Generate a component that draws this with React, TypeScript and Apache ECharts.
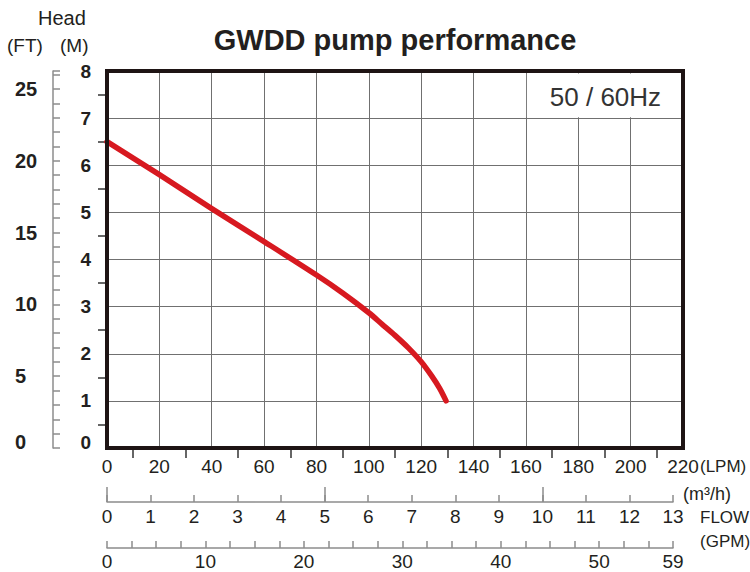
import React, { useEffect, useRef } from "react";
import * as echarts from "echarts";

// ---- data ----
const flowLPM = [0, 20, 40, 60, 80, 90, 100, 105, 110, 115, 120, 124, 127, 129.5];
const headM = [6.5, 5.8, 5.08, 4.38, 3.67, 3.29, 2.87, 2.63, 2.39, 2.13, 1.83, 1.53, 1.27, 1.0];
const gpmLabelAtEnd = "59";
const titleText = "GWDD pump performance";
const freqText = "50 / 60Hz";

// ---- layout ----
const W = 750;
const H = 572;
const GL = 107;
const GT = 71;
const GW = 576;
const GH = 377;
const LPM_MAX = 220;
const M_MAX = 8;
const FT_MAX = M_MAX / 0.3048;
const SUB_W = 566;

const FONT = "'Liberation Sans', Arial, Helvetica, sans-serif";
const INK = "#231f20";
const FRAME = "#1e1414";
const GRIDC = "#707070";
const AXC = "#8c8c8c";
const RED = "#d71920";

const px = (lpm: number) => GL + (lpm / LPM_MAX) * GW;
const py = (m: number) => GT + GH - (m / M_MAX) * GH;

export default function App() {
  const ref = useRef<HTMLDivElement>(null);
  useEffect(() => {
    if (!ref.current) return;
    const chart = echarts.init(ref.current, undefined, { renderer: "svg" });
    const curve = flowLPM.map((x, i) => [x, headM[i]]);
    const boxX0 = px(160) + 1;
    const boxX1 = px(220) - 2.5;
    const boxY0 = py(8) + 2.5;
    const boxY1 = py(7) - 1;
    chart.setOption({
      animation: false,
      textStyle: { fontFamily: FONT },
      grid: [
        { left: GL, top: GT, width: GW, height: GH, show: false },
        { left: GL, top: 501, width: SUB_W, height: 1, show: false },
        { left: GL, top: 547, width: SUB_W, height: 1, show: false },
      ],
      xAxis: [
        {
          type: "value", gridIndex: 0, min: 0, max: LPM_MAX, interval: 20,
          axisLine: { show: false },
          axisTick: { show: false },
          minorTick: { show: true, splitNumber: 2, length: 10, lineStyle: { color: "#333", width: 1.5 } },
          splitLine: { show: true, lineStyle: { color: GRIDC, width: 1 } },
          axisLabel: { fontSize: 19, color: INK, margin: 9, fontFamily: FONT },
        },
        {
          type: "value", gridIndex: 1, min: 0, max: 13, interval: 1, position: "bottom",
          axisLine: { show: true, lineStyle: { color: AXC, width: 1.5 } },
          axisTick: { show: true, inside: true, length: 7, lineStyle: { color: AXC, width: 1.5 } },
          splitLine: { show: false },
          axisLabel: { fontSize: 19, color: INK, margin: 5, fontFamily: FONT },
        },
        {
          type: "value", gridIndex: 1, min: 0, max: 13, interval: 5, position: "bottom",
          axisLine: { show: false },
          axisTick: { show: true, inside: true, length: 15, customValues: [0, 5, 10], lineStyle: { color: AXC, width: 1.5 } },
          splitLine: { show: false },
          axisLabel: { show: false },
        },
        {
          type: "value", gridIndex: 2, min: 0, max: 57.5, interval: 2.5, position: "bottom",
          axisLine: { show: true, lineStyle: { color: AXC, width: 1.5 } },
          axisTick: { show: true, inside: true, length: 7, lineStyle: { color: AXC, width: 1.5 } },
          splitLine: { show: false },
          axisLabel: {
            fontSize: 19, color: INK, margin: 4, fontFamily: FONT,
            formatter: (v: number) => (v === 57.5 ? gpmLabelAtEnd : v % 10 === 0 ? String(v) : ""),
          },
        },
      ],
      yAxis: [
        {
          type: "value", gridIndex: 0, min: 0, max: M_MAX, interval: 1,
          axisLine: { show: false },
          axisTick: { show: false },
          minorTick: { show: true, splitNumber: 2, length: 9, lineStyle: { color: "#333", width: 1.5 } },
          splitLine: { show: true, lineStyle: { color: GRIDC, width: 1 } },
          axisLabel: {
            fontSize: 19, fontWeight: "bold", color: INK, margin: 16, fontFamily: FONT,
            formatter: (v: number) => (v === 0 ? "{z|0}" : String(v)),
            rich: { z: { padding: [0, 0, 12, 0], fontSize: 19, fontWeight: "bold", color: INK, fontFamily: FONT } },
          },
        },
        {
          type: "value", gridIndex: 0, min: 0, max: FT_MAX, interval: 1, position: "left", offset: 54,
          axisLine: { show: true, lineStyle: { color: AXC, width: 1.5 } },
          axisTick: { show: true, inside: true, length: 7, lineStyle: { color: AXC, width: 1.5 } },
          splitLine: { show: false },
          axisLabel: {
            fontSize: 20, fontWeight: "bold", color: INK, margin: 38, align: "left", fontFamily: FONT,
            formatter: (v: number) => (v === 0 ? "{z|0}" : Math.abs(v % 5) < 1e-9 ? String(v) : ""),
            rich: { z: { padding: [0, 0, 12, 0], fontSize: 20, fontWeight: "bold", color: INK, fontFamily: FONT } },
          },
        },
        { type: "value", gridIndex: 1, show: false },
        { type: "value", gridIndex: 2, show: false },
      ],
      series: [
        {
          type: "line", xAxisIndex: 0, yAxisIndex: 0, data: curve,
          smooth: 0.3, showSymbol: false, symbol: "none",
          lineStyle: { color: RED, width: 5.5, cap: "round", join: "round" },
          z: 5,
        },
      ],
      graphic: [
        {
          type: "rect", z: 1,
          shape: { x: boxX0, y: boxY0, width: boxX1 - boxX0, height: boxY1 - boxY0 },
          style: { fill: "#ffffff" },
        },
        {
          type: "rect", z: 20, silent: true,
          shape: { x: GL, y: GT, width: GW, height: GH },
          style: { fill: "none", stroke: FRAME, lineWidth: 4 },
        },
        {
          type: "text", z: 2, x: (px(160) + px(220)) / 2 + 1, y: 97,
          style: { text: freqText, fontSize: 26, fontFamily: FONT, fill: "#333", align: "center", verticalAlign: "middle" },
        },
        {
          type: "text", x: 395, y: 40,
          style: { text: titleText, fontSize: 29, fontWeight: "bold", fontFamily: FONT, fill: INK, align: "center", verticalAlign: "middle" },
        },
        {
          type: "text", x: 38, y: 18,
          style: { text: "Head", fontSize: 20, fontFamily: FONT, fill: INK, align: "left", verticalAlign: "middle" },
        },
        {
          type: "text", x: 7, y: 45,
          style: { text: "(FT)", fontSize: 19, fontFamily: FONT, fill: INK, align: "left", verticalAlign: "middle" },
        },
        {
          type: "text", x: 60, y: 45,
          style: { text: "(M)", fontSize: 19, fontFamily: FONT, fill: INK, align: "left", verticalAlign: "middle" },
        },
        {
          type: "text", x: 700, y: 466,
          style: { text: "(LPM)", fontSize: 17, fontFamily: FONT, fill: INK, align: "left", verticalAlign: "middle" },
        },
        {
          type: "text", x: 683, y: 494,
          style: { text: "(m³/h)", fontSize: 18, fontFamily: FONT, fill: INK, align: "left", verticalAlign: "middle" },
        },
        {
          type: "text", x: 700, y: 517,
          style: { text: "FLOW", fontSize: 17, fontFamily: FONT, fill: INK, align: "left", verticalAlign: "middle" },
        },
        {
          type: "text", x: 700, y: 541,
          style: { text: "(GPM)", fontSize: 17, fontFamily: FONT, fill: INK, align: "left", verticalAlign: "middle" },
        },
      ],
    });
    return () => chart.dispose();
  }, []);
  return (
    <div
      ref={ref}
      style={{ position: "absolute", left: 0, top: 0, width: W, height: H, background: "#fff" }}
    />
  );
}
